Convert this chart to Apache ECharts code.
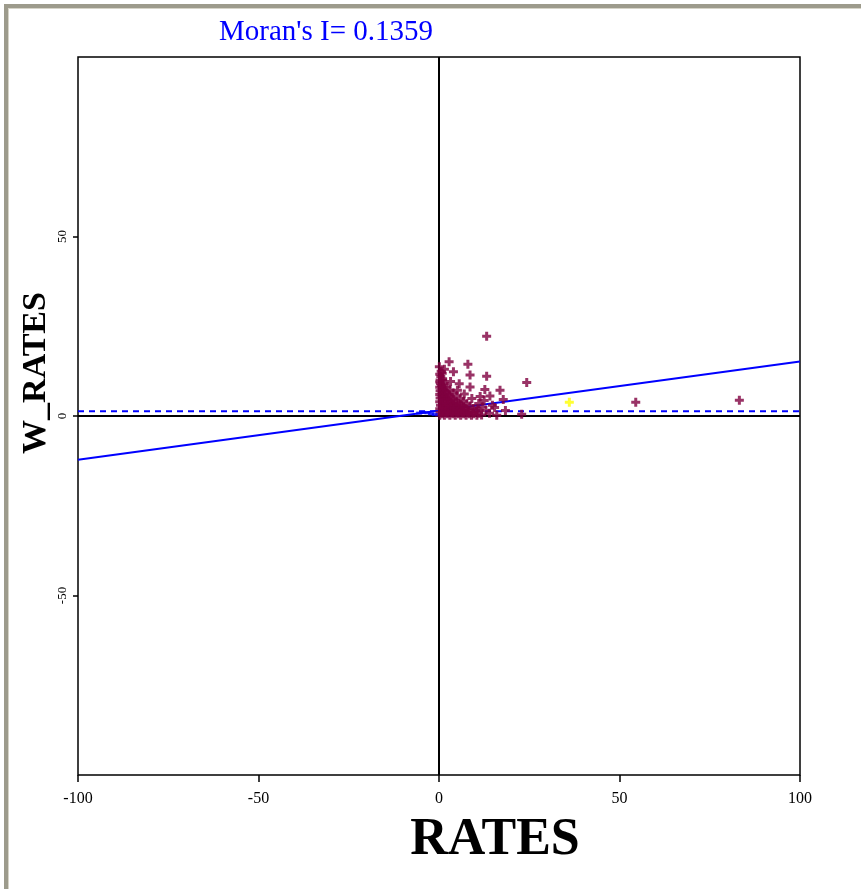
<!DOCTYPE html>
<html>
<head>
<meta charset="utf-8">
<script src="https://cdn.jsdelivr.net/npm/echarts@6/dist/echarts.min.js"></script>
<style>html,body{margin:0;padding:0;background:#fff;}#c{width:861px;height:889px;}</style>
</head>
<body>
<div id="c"></div>
<script>
// ---- data ----
const titleText = "Moran's I= 0.1359";
const xName = 'RATES';
const yName = 'W_RATES';
const xTicks = [-100, -50, 0, 50, 100];
const yTicks = [-50, 0, 50];
// high-high / main points (maroon)
const mainPoints = [
  [0.2,0.2],[1.5,0.2],[3,0.2],[4.5,0.2],[6,0.2],[7.5,0.2],[9,0.2],[10.5,0.2],[11.8,0.3],
  [0.9,0.6],[2.3,0.6],[3.8,0.6],[5.3,0.6],[6.8,0.6],[8.3,0.6],[9.6,0.6],[11.0,0.8],
  [0.3,1],[1.8,1],[3.3,1],[4.8,1],[6.3,1],[7.8,1],[9.3,1],[10.4,1.4],
  [1.0,1.5],[2.4,1.5],[3.9,1.5],[5.4,1.5],[6.9,1.5],[8.2,1.5],[9.5,2.1],
  [0.2,2],[1.6,2],[3.1,2],[4.6,2],[6.1,2],[7.4,2],[8.6,2.8],
  [0.9,2.5],[2.5,2.5],[4.0,2.5],[5.5,2.5],[6.8,2.5],[7.7,3.4],
  [0.4,3],[1.9,3],[3.4,3],[4.9,3],[6.2,3],[6.8,4.1],
  [1.0,3.5],[2.5,3.5],[4.0,3.5],[5.4,3.5],[5.9,4.8],
  [0.2,4],[1.7,4],[3.2,4],[4.6,4],[4.9,5.6],
  [0.9,4.5],[2.4,4.5],[3.9,4.5],[3.9,6.4],
  [0.3,5],[1.8,5],[3.3,5],[3.0,7.2],
  [0.8,5.5],[2.3,5.5],[2.2,8.1],
  [0.2,6],[1.5,6],[2.8,6],[1.5,9.0],
  [0.8,6.5],[2.0,6.5],[1.0,10.4],
  [0.3,7],[1.6,7],[0.2,11.6],[0.9,11.9],
  [0.8,7.5],[0.2,8],[1.2,8],[0.7,8.5],
  [0.4,9],[0.3,10],[1.0,10],[0.5,11],[0.2,9.5],
  [0.1,13.7],[0.6,12.5],[1.5,13.0],
  [13.2,22.2],[2.8,15.1],[8.0,14.4],[4.0,12.3],[8.6,11.4],[13.2,11.1],[24.3,9.3],
  [5.1,7.2],[8.6,8.1],[12.7,7.4],[16.9,7.2],[17.8,4.6],[11.4,5.4],
  [11,3.5],[12,2.5],[13,1.5],[14,0.8],[16,0.2],[12.5,4.3],[10.5,2],[22.9,0.5],
  [3.2,9.6],[5.6,9.0],[7.0,6.1],[9.1,4.9],[14.8,3.0],[14.1,5.6],[18.4,1.5],[15.4,2.4],
  [54.5,3.8],[83.2,4.4]
];
// low-low points (blue)
const lowPoints = [[-5.5,0.8],[-4.5,1.0],[-3.2,0.9],[-2.2,0.6],[-1.2,0.4]];
// highlighted point (yellow)
const selPoints = [[36.1,3.8]];
// regression line and mean line
const regLine = [[-100,-12.2],[100,15.2]];
const meanLine = [[-100,1.3],[100,1.3]];

const plus = 'path://M3,0H6V3H9V6H6V9H3V6H0V3H3Z';
const serif = '"Liberation Serif","DejaVu Serif",serif';

const chart = echarts.init(document.getElementById('c'), null, {renderer:'canvas'});
chart.setOption({
  animation:false,
  backgroundColor:'#fff',
  grid:{left:78, right:61, top:57, bottom:114, show:true, borderColor:'#000', borderWidth:1.5, backgroundColor:'transparent'},
  xAxis:{type:'value', min:-100, max:100, interval:50, position:'bottom',
    axisLine:{show:false, onZero:false}, splitLine:{show:false},
    axisTick:{show:true, length:7, inside:false, lineStyle:{color:'#000',width:1.5}, customValues:xTicks},
    axisLabel:{color:'#000', fontFamily:serif, fontSize:16, margin:16, customValues:xTicks}},
  yAxis:{type:'value', min:-100, max:100, interval:50, position:'left',
    axisLine:{show:false, onZero:false}, splitLine:{show:false},
    axisTick:{show:true, length:5, lineStyle:{color:'#000',width:1.5}, customValues:yTicks},
    axisLabel:{color:'#000', fontFamily:serif, fontSize:13, rotate:90, margin:9, customValues:yTicks}},
  graphic:[
    {type:'rect', shape:{x:4,y:4,width:5,height:885}, style:{fill:'#9d9b8c'}, z:100},
    {type:'rect', shape:{x:4,y:4,width:857,height:5}, style:{fill:'#9d9b8c'}, z:100},
    {type:'rect', shape:{x:8,y:8,width:1,height:881}, style:{fill:'#d6d4c8'}, z:101},
    {type:'rect', shape:{x:8,y:8,width:853,height:1}, style:{fill:'#d6d4c8'}, z:101},
    {type:'text', x:326, y:32, style:{text:titleText, fill:'#0000ff', font:'29px '+serif, align:'center', verticalAlign:'middle'}},
    {type:'text', x:495, y:841, style:{text:xName, fill:'#000', font:'bold 52px '+serif, align:'center', verticalAlign:'middle'}},
    {type:'text', x:36, y:373, rotation:Math.PI/2, style:{text:yName, fill:'#000', font:'bold 34px '+serif, align:'center', verticalAlign:'middle'}}
  ],
  series:[
    {type:'line', data:regLine, symbol:'none', silent:true, z:2, lineStyle:{color:'#0000ff', width:2}},
    {type:'line', data:meanLine, symbol:'none', silent:true, z:2, lineStyle:{color:'#0000ff', width:2, type:[6,5]}},
    {type:'scatter', data:mainPoints, symbol:plus, symbolSize:9, z:4, itemStyle:{color:'#7f0040'},
      markLine:{silent:true, symbol:'none', label:{show:false}, lineStyle:{color:'#000', width:2, type:'solid'},
        data:[{xAxis:0},{yAxis:0}], z:1}},
    {type:'scatter', data:lowPoints, symbol:'rect', symbolSize:[6,3], z:4, itemStyle:{color:'#0000ff'}},
    {type:'scatter', data:selPoints, symbol:plus, symbolSize:9, z:4, itemStyle:{color:'#ffff00'}}
  ]
});
</script>
</body>
</html>
